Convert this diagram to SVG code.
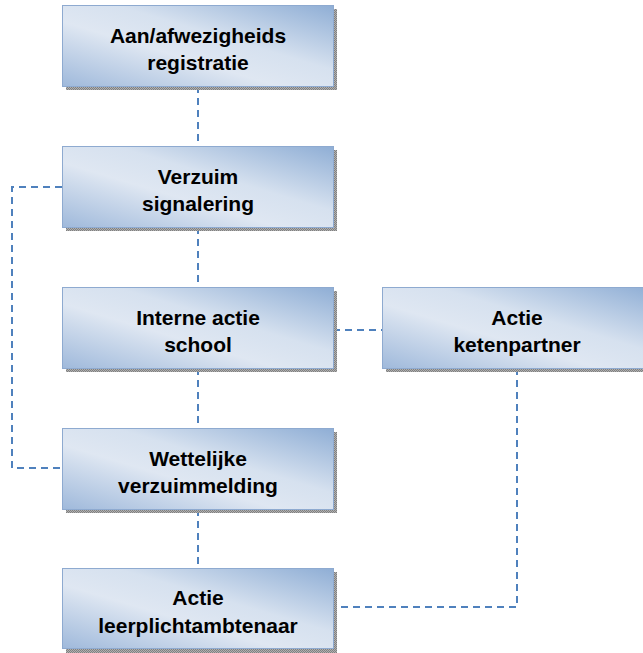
<svg xmlns="http://www.w3.org/2000/svg" width="643" height="653" viewBox="0 0 643 653">
<defs>
<linearGradient id="g" x1="0" y1="1" x2="1" y2="0">
<stop offset="0" stop-color="#9fb9db"/>
<stop offset="0.4" stop-color="#dfe7f2"/>
<stop offset="0.6" stop-color="#d6e1ef"/>
<stop offset="1" stop-color="#8faed5"/>
</linearGradient>
<pattern id="sh" width="2" height="2" patternUnits="userSpaceOnUse">
<rect width="2" height="2" fill="#b0b0b0"/>
<rect width="1" height="1" fill="#808080"/>
<rect x="1" y="1" width="1" height="1" fill="#808080"/>
</pattern>
</defs>
<style>
.shadow{fill:url(#sh)}
.box{fill:url(#g);stroke:#8eaad0;stroke-width:1}
.t{font-family:"Liberation Sans",Arial,sans-serif;font-weight:bold;font-size:21px;text-anchor:middle;fill:#000}
.c{fill:none;stroke:#4f81bd;stroke-width:2;stroke-dasharray:7,5}
</style>
<rect width="643" height="653" fill="#fff"/>
<g id="connectors">
<path class="c" d="M198,86 V146"/>
<path class="c" d="M198,227 V287"/>
<path class="c" d="M198,368 V428"/>
<path class="c" d="M198,509 V568"/>
<path class="c" d="M62,187 H12 V468 H62"/>
<path class="c" d="M333,330 H382"/>
<path class="c" d="M517,368 V607 H333"/>
</g>
<g id="n1">
<rect class="shadow" x="66" y="9" width="271" height="81"/>
<rect class="box" x="62.5" y="5.5" width="271" height="81"/>
<text class="t" x="198" y="43">Aan/afwezigheids</text>
<text class="t" x="198" y="70">registratie</text>
</g>
<g id="n2">
<rect class="shadow" x="66" y="150" width="271" height="81"/>
<rect class="box" x="62.5" y="146.5" width="271" height="81"/>
<text class="t" x="198" y="184">Verzuim</text>
<text class="t" x="198" y="211">signalering</text>
</g>
<g id="n3">
<rect class="shadow" x="66" y="291" width="271" height="81"/>
<rect class="box" x="62.5" y="287.5" width="271" height="81"/>
<text class="t" x="198" y="325">Interne actie</text>
<text class="t" x="198" y="352">school</text>
</g>
<g id="n4">
<rect class="shadow" x="386" y="291" width="271" height="81"/>
<rect class="box" x="382.5" y="287.5" width="271" height="81"/>
<text class="t" x="517" y="325">Actie</text>
<text class="t" x="517" y="352">ketenpartner</text>
</g>
<g id="n5">
<rect class="shadow" x="66" y="432" width="271" height="81"/>
<rect class="box" x="62.5" y="428.5" width="271" height="81"/>
<text class="t" x="198" y="466">Wettelijke</text>
<text class="t" x="198" y="493">verzuimmelding</text>
</g>
<g id="n6">
<rect class="shadow" x="66" y="572" width="271" height="81"/>
<rect class="box" x="62.5" y="568.5" width="271" height="80"/>
<text class="t" x="198" y="605">Actie</text>
<text class="t" x="198" y="633">leerplichtambtenaar</text>
</g>
</svg>
